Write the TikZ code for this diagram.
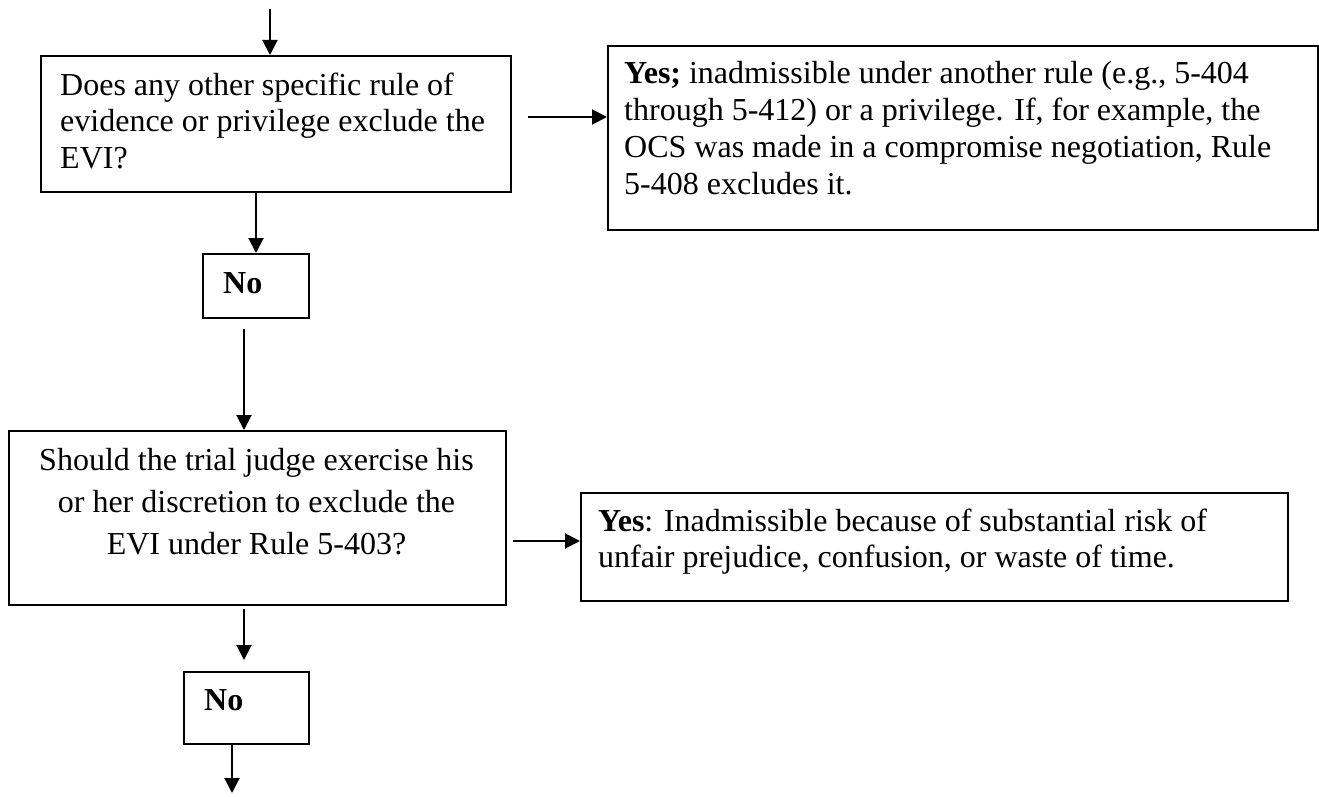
\documentclass[tikz,border=0pt]{standalone}
\usepackage{fontspec}
\setmainfont{Liberation Serif}
\usetikzlibrary{arrows.meta}
\begin{document}
\begin{tikzpicture}[x=1pt,y=-1pt,
  box/.style={draw=black, line width=2pt, inner sep=0pt, anchor=north west},
  txt/.style={inner sep=0pt, font=\fontsize{32}{36.5}\selectfont, align=left, anchor=base west},
  conn/.style={line width=2pt, -{Triangle[length=15pt,width=15pt]}},
]
\useasboundingbox (0,0) rectangle (1319,797);

% boxes
\node[box, minimum width=470pt, minimum height=136pt] (b1) at (40,55) {};
\node[box, minimum width=710pt, minimum height=184pt] (b2) at (607,45) {};
\node[box, minimum width=106pt, minimum height=64pt] (n1) at (202,253) {};
\node[box, minimum width=497pt, minimum height=174pt] (b3) at (8,430) {};
\node[box, minimum width=707pt, minimum height=108pt] (b4) at (580,492) {};
\node[box, minimum width=125pt, minimum height=72pt] (n2) at (183,671) {};

% texts (anchor base = baseline of the last line)
\node[txt] (t1) at (60,168) {Does any other specific rule of\\evidence or privilege exclude the\\EVI?};
\node[txt, font=\fontsize{32}{37}\selectfont] (t2) at (624,194) {\textbf{Yes;} inadmissible under another rule (e.g., 5-404\\through 5-412) or a privilege. If, for example, the\\OCS was made in a compromise negotiation, Rule\\5-408 excludes it.};
\node[txt] (tn1) at (223,293) {\textbf{No}};
\node[txt, font=\fontsize{32}{42}\selectfont, align=center, anchor=base] (t3) at (256.5,554) {Should the trial judge exercise his\\or her discretion to exclude the\\EVI under Rule 5-403?};
\node[txt, font=\fontsize{32}{36}\selectfont] (t4) at (598,567) {\textbf{Yes}: Inadmissible because of substantial risk of\\unfair prejudice, confusion, or waste of time.};
\node[txt] (tn2) at (204,710) {\textbf{No}};

% connectors
\coordinate (s0) at (270,9);
\coordinate (a1) at (528,117);
\coordinate (a2) at (244,329);
\coordinate (a3) at (513,541);
\coordinate (a4) at (244,609);
\coordinate (e0) at (232,793);
\draw[conn] (s0) -- (s0 |- b1.north);
\draw[conn] (b1.south -| n1.north) -- (n1.north);
\draw[conn] (a1) -- (a1 -| b2.west);
\draw[conn] (a2) -- (a2 |- b3.north);
\draw[conn] (a3) -- (a3 -| b4.west);
\draw[conn, shorten >=11pt] (a4) -- (a4 |- n2.north);
\draw[conn] (n2.south -| e0) -- (e0);
\end{tikzpicture}
\end{document}
